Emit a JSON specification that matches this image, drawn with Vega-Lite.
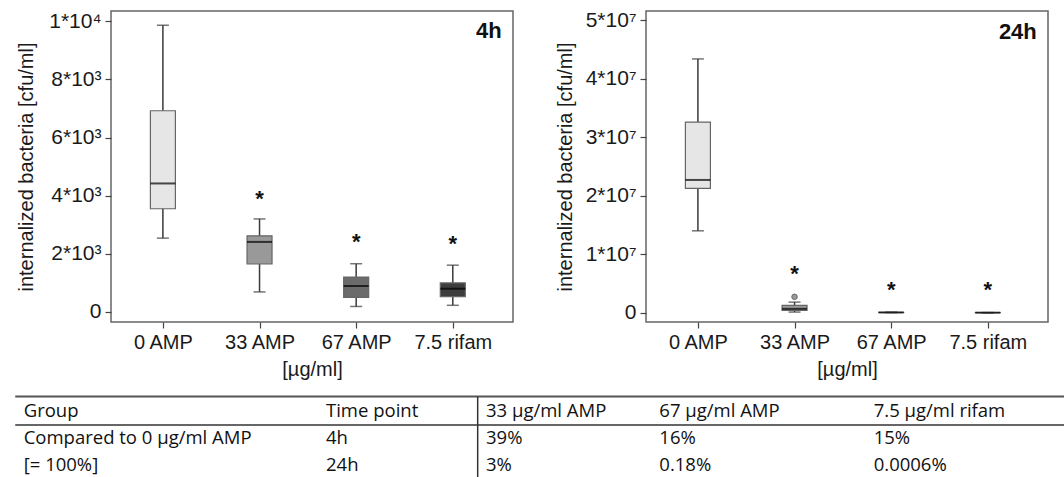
{
  "$schema": "https://vega.github.io/schema/vega-lite/v6.json",
  "background": "white",
  "padding": {"left": 14, "top": 8, "right": 0, "bottom": 0},
  "config": {
    "font": "Liberation Sans",
    "view": {"stroke": "#666666", "strokeWidth": 1.5},
    "axis": {
      "grid": false,
      "domain": false,
      "tickColor": "#444444",
      "tickSize": 6,
      "tickWidth": 1.2,
      "labelFont": "Liberation Sans",
      "labelFontSize": 20,
      "labelColor": "#1a1a1a",
      "labelPadding": 4,
      "titleFont": "Liberation Sans",
      "titleFontSize": 20,
      "titleFontWeight": "normal",
      "titleColor": "#1a1a1a"
    }
  },
  "datasets": {
    "boxes": [
      {"time": "4h", "group": "0 AMP", "lower": 2540, "q1": 3550, "median": 4420, "q3": 6920, "upper": 9860, "star": null, "outlier": null},
      {"time": "4h", "group": "33 AMP", "lower": 690, "q1": 1650, "median": 2410, "q3": 2620, "upper": 3200, "star": 3950, "outlier": null},
      {"time": "4h", "group": "67 AMP", "lower": 190, "q1": 500, "median": 890, "q3": 1200, "upper": 1660, "star": 2490, "outlier": null},
      {"time": "4h", "group": "7.5 rifam", "lower": 230, "q1": 530, "median": 800, "q3": 1000, "upper": 1610, "star": 2400, "outlier": null},
      {"time": "24h", "group": "0 AMP", "lower": 14000000, "q1": 21250000, "median": 22700000, "q3": 32600000, "upper": 43400000, "star": null, "outlier": null},
      {"time": "24h", "group": "33 AMP", "lower": 100000, "q1": 400000, "median": 650000, "q3": 1250000, "upper": 1800000, "star": 6900000, "outlier": 2700000},
      {"time": "24h", "group": "67 AMP", "lower": 20000, "q1": 35000, "median": 41000, "q3": 50000, "upper": 60000, "star": 4150000, "outlier": null},
      {"time": "24h", "group": "7.5 rifam", "lower": 100, "q1": 120, "median": 136, "q3": 150, "upper": 170, "star": 4150000, "outlier": null}
    ],
    "table": [
      {"row": 0, "col": 0, "text": "Group"},
      {"row": 0, "col": 1, "text": "Time point"},
      {"row": 0, "col": 2, "text": "33 µg/ml AMP"},
      {"row": 0, "col": 3, "text": "67 µg/ml AMP"},
      {"row": 0, "col": 4, "text": "7.5 µg/ml rifam"},
      {"row": 1, "col": 0, "text": "Compared to 0 µg/ml AMP"},
      {"row": 1, "col": 1, "text": "4h"},
      {"row": 1, "col": 2, "text": "39%"},
      {"row": 1, "col": 3, "text": "16%"},
      {"row": 1, "col": 4, "text": "15%"},
      {"row": 2, "col": 0, "text": "[= 100%]"},
      {"row": 2, "col": 1, "text": "24h"},
      {"row": 2, "col": 2, "text": "3%"},
      {"row": 2, "col": 3, "text": "0.18%"},
      {"row": 2, "col": 4, "text": "0.0006%"}
    ]
  },
  "vconcat": [
    {
      "hconcat": [
        {
          "width": 402,
          "height": 311,
          "data": {"name": "boxes"},
          "transform": [{"filter": "datum.time == '4h'"}],
          "encoding": {
            "x": {
              "field": "group",
              "type": "nominal",
              "sort": ["0 AMP", "33 AMP", "67 AMP", "7.5 rifam"],
              "scale": {"type": "point", "padding": 0.58, "align": 0.463},
              "axis": {"title": "[µg/ml]", "labelAngle": 0, "titlePadding": 7}
            }
          },
          "layer": [
            {
              "mark": {"type": "rule", "color": "#3a3a3a", "strokeWidth": 1.5},
              "encoding": {
                "y": {
                  "field": "lower",
                  "type": "quantitative",
                  "title": "internalized bacteria [cfu/ml]",
                  "scale": {"domain": [-344, 10350], "nice": false, "zero": false},
                  "axis": {
                    "values": [0, 2000, 4000, 6000, 8000, 10000],
                    "labelExpr": "datum.value == 0 ? '0' : (datum.value == 10000 ? '1*10⁴' : (datum.value / 1000) + '*10³')",
                    "labelFontSize": 21,
                    "titlePadding": 12
                  }
                },
                "y2": {"field": "upper"}
              }
            },
            {
              "mark": {"type": "tick", "color": "#3a3a3a", "size": 12, "thickness": 1.5},
              "encoding": {"y": {"field": "lower", "type": "quantitative", "title": "internalized bacteria [cfu/ml]"}}
            },
            {
              "mark": {"type": "tick", "color": "#3a3a3a", "size": 12, "thickness": 1.5},
              "encoding": {"y": {"field": "upper", "type": "quantitative", "title": "internalized bacteria [cfu/ml]"}}
            },
            {
              "mark": {"type": "bar", "size": 25, "stroke": "#666666", "strokeWidth": 1.2},
              "encoding": {
                "y": {"field": "q1", "type": "quantitative", "title": "internalized bacteria [cfu/ml]"},
                "y2": {"field": "q3"},
                "color": {
                  "field": "group",
                  "type": "nominal",
                  "scale": {"domain": ["0 AMP", "33 AMP", "67 AMP", "7.5 rifam"], "range": ["#e6e6e6", "#999999", "#6b6b6b", "#3d3d3d"]},
                  "legend": null
                }
              }
            },
            {
              "mark": {"type": "tick", "color": "#000000", "size": 25, "thickness": 2},
              "encoding": {"y": {"field": "median", "type": "quantitative", "title": "internalized bacteria [cfu/ml]"}}
            },
            {
              "transform": [{"filter": "isValid(datum.star)"}],
              "mark": {"type": "text", "text": "*", "fontSize": 22, "fontWeight": "bold", "baseline": "alphabetic", "dy": 9, "color": "#111111"},
              "encoding": {"y": {"field": "star", "type": "quantitative", "title": "internalized bacteria [cfu/ml]"}}
            },
            {
              "transform": [{"filter": "datum.group == '7.5 rifam'"}],
              "mark": {"type": "text", "fontSize": 22, "fontWeight": "bold", "align": "right", "baseline": "alphabetic", "dx": 49, "color": "#111111"},
              "encoding": {"y": {"datum": 9405, "type": "quantitative"}, "text": {"field": "time"}}
            }
          ]
        },
        {
          "width": 402,
          "height": 311,
          "data": {"name": "boxes"},
          "transform": [{"filter": "datum.time == '24h'"}],
          "encoding": {
            "x": {
              "field": "group",
              "type": "nominal",
              "sort": ["0 AMP", "33 AMP", "67 AMP", "7.5 rifam"],
              "scale": {"type": "point", "padding": 0.58, "align": 0.463},
              "axis": {"title": "[µg/ml]", "labelAngle": 0, "titlePadding": 7}
            }
          },
          "layer": [
            {
              "mark": {"type": "rule", "color": "#3a3a3a", "strokeWidth": 1.5},
              "encoding": {
                "y": {
                  "field": "lower",
                  "type": "quantitative",
                  "title": "internalized bacteria [cfu/ml]",
                  "scale": {"domain": [-1600000, 51600000], "nice": false, "zero": false},
                  "axis": {
                    "values": [0, 10000000, 20000000, 30000000, 40000000, 50000000],
                    "labelExpr": "datum.value == 0 ? '0' : (datum.value / 10000000) + '*10⁷'",
                    "labelFontSize": 21,
                    "titlePadding": 10
                  }
                },
                "y2": {"field": "upper"}
              }
            },
            {
              "mark": {"type": "tick", "color": "#3a3a3a", "size": 12, "thickness": 1.5},
              "encoding": {"y": {"field": "lower", "type": "quantitative", "title": "internalized bacteria [cfu/ml]"}}
            },
            {
              "mark": {"type": "tick", "color": "#3a3a3a", "size": 12, "thickness": 1.5},
              "encoding": {"y": {"field": "upper", "type": "quantitative", "title": "internalized bacteria [cfu/ml]"}}
            },
            {
              "mark": {"type": "bar", "size": 25, "stroke": "#666666", "strokeWidth": 1.2},
              "encoding": {
                "y": {"field": "q1", "type": "quantitative", "title": "internalized bacteria [cfu/ml]"},
                "y2": {"field": "q3"},
                "color": {
                  "field": "group",
                  "type": "nominal",
                  "scale": {"domain": ["0 AMP", "33 AMP", "67 AMP", "7.5 rifam"], "range": ["#e6e6e6", "#999999", "#6b6b6b", "#3d3d3d"]},
                  "legend": null
                }
              }
            },
            {
              "mark": {"type": "tick", "color": "#000000", "size": 25, "thickness": 2},
              "encoding": {"y": {"field": "median", "type": "quantitative", "title": "internalized bacteria [cfu/ml]"}}
            },
            {
              "transform": [{"filter": "isValid(datum.outlier)"}],
              "mark": {"type": "point", "filled": true, "fill": "#999999", "stroke": "#666666", "strokeWidth": 1, "size": 30, "opacity": 1},
              "encoding": {"y": {"field": "outlier", "type": "quantitative", "title": "internalized bacteria [cfu/ml]"}}
            },
            {
              "transform": [{"filter": "isValid(datum.star)"}],
              "mark": {"type": "text", "text": "*", "fontSize": 22, "fontWeight": "bold", "baseline": "alphabetic", "dy": 9, "color": "#111111"},
              "encoding": {"y": {"field": "star", "type": "quantitative", "title": "internalized bacteria [cfu/ml]"}}
            },
            {
              "transform": [{"filter": "datum.group == '7.5 rifam'"}],
              "mark": {"type": "text", "fontSize": 22, "fontWeight": "bold", "align": "right", "baseline": "alphabetic", "dx": 49, "color": "#111111"},
              "encoding": {"y": {"datum": 46870000, "type": "quantitative"}, "text": {"field": "time"}}
            }
          ]
        }
      ],
      "spacing": 40
    },
    {
      "width": 954,
      "height": 82,
      "view": {"stroke": null},
      "data": {"name": "table"},
      "layer": [
        {
          "mark": {"type": "text", "align": "left", "baseline": "alphabetic", "font": "Open Sans", "fontSize": 18.5, "color": "#111111"},
          "encoding": {
            "x": {"field": "col", "type": "quantitative", "scale": {"domain": [0, 1, 2, 3, 4, 5], "range": [-87.3, 215, 375, 548.3, 762.7, 954], "nice": false, "zero": false}, "axis": null},
            "y": {"field": "row", "type": "quantitative", "scale": {"domain": [-0.8, 2.275], "reverse": true, "nice": false, "zero": false}, "axis": null},
            "text": {"field": "text"}
          }
        },
        {
          "transform": [{"filter": "datum.row == 0 && datum.col == 0"}],
          "mark": {"type": "rule", "color": "#555555", "strokeWidth": 2},
          "encoding": {"x": {"datum": -0.028, "type": "quantitative"}, "x2": {"datum": 5}, "y": {"datum": -0.78, "type": "quantitative"}}
        },
        {
          "transform": [{"filter": "datum.row == 0 && datum.col == 0"}],
          "mark": {"type": "rule", "color": "#666666", "strokeWidth": 1.8},
          "encoding": {"x": {"datum": -0.028, "type": "quantitative"}, "x2": {"datum": 5}, "y": {"datum": 0.2875, "type": "quantitative"}}
        },
        {
          "transform": [{"filter": "datum.row == 0 && datum.col == 0"}],
          "mark": {"type": "rule", "color": "#333333", "strokeWidth": 1.5},
          "encoding": {"x": {"datum": 1.948, "type": "quantitative"}, "y": {"datum": -0.78, "type": "quantitative"}, "y2": {"datum": 2.275}}
        }
      ]
    }
  ],
  "spacing": 15
}
